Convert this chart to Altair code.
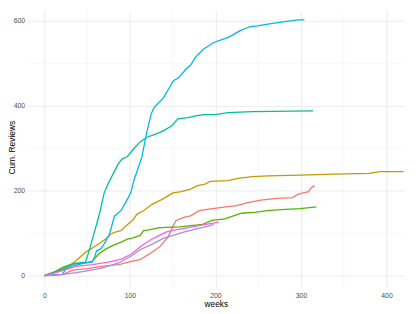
import altair as alt
import pandas as pd

series_names = ["A", "B", "C", "D", "E", "F", "G"]
series_colors = ["#F8766D", "#C49A00", "#53B400", "#00C094", "#00B6EB", "#A58AFF", "#FB61D7"]

weeks_A = [0, 11, 22, 33, 48, 67, 87, 102, 112, 124, 135, 145, 150, 154, 164, 171, 181, 192, 208, 225, 238, 253, 272, 290, 297, 305, 309, 312, 316]
reviews_A = [0, 2, 3, 13, 16, 22, 26, 34, 38, 53, 68, 92, 115, 130, 138, 141, 153, 157, 161, 165, 172, 178, 182, 184, 192, 196, 198, 207, 212]

weeks_B = [0, 11, 22, 37, 48, 60, 71, 77, 82, 89.5, 97, 103, 108.5, 116, 126, 137, 150.5, 160, 171, 179, 187, 194, 215, 226, 243, 262, 300, 338, 380, 392, 420]
reviews_B = [0, 8, 13, 35, 55, 70, 85, 97, 102, 106, 120, 130, 145, 153, 168, 179, 195, 198, 204, 212, 215, 222, 224, 229, 233, 235, 237, 239, 241, 245, 245]

weeks_C = [0, 9.5, 22, 32, 48, 56, 63, 71, 81, 90, 97, 102, 112, 116, 122, 135, 158, 185, 196, 211, 221, 230.5, 246, 261, 272, 299, 318]
reviews_C = [0, 6, 20, 27, 30, 34, 50, 62, 72, 79, 86, 88, 95, 106, 108, 113, 115, 121, 130, 134, 141, 147, 149, 153, 155, 158, 162]

weeks_D = [0, 6, 15, 36, 48, 53, 56, 61, 65, 70, 75, 80, 86, 91, 97, 105, 112, 120, 131, 139, 149, 156, 168, 177, 186, 201, 215, 243, 314]
reviews_D = [0, 5, 10, 29, 32, 62, 85, 120, 150, 195, 218, 238, 262, 275, 280, 300, 315, 326, 334, 341, 353, 369, 372, 376, 379, 380, 384, 386, 388]

weeks_E = [0, 10, 21, 25, 35, 48, 56, 59, 61, 66, 70, 76, 82, 89.5, 95, 101, 105, 114, 120, 125, 128, 139, 151, 157, 166, 171, 177, 186, 198, 215, 229, 240, 249, 263, 281, 297, 304]
reviews_E = [0, 1, 3, 15, 24, 30, 32, 45, 58, 63, 75, 97, 140, 153, 172, 195, 226, 279, 340, 381, 395, 418, 459, 466, 487, 496, 515, 533, 549, 561, 577, 586, 588, 593, 598, 602, 602]

weeks_F = [0, 22, 37, 48, 67, 87, 97, 102, 112, 128, 139, 150.5, 164, 179, 190.5, 198]
reviews_F = [0, 3, 7, 11, 18, 30, 41, 47, 61, 76, 88, 95, 103, 111, 116, 121]

weeks_G = [0, 10, 25.5, 37, 56, 75, 90, 102, 112, 124, 131, 143, 150.5, 173, 192, 204]
reviews_G = [0, 5, 15, 22, 26, 32, 39, 51, 68, 84, 91.5, 103, 107, 115, 122, 126]

x_major = [0, 100, 200, 300, 400]
x_minor = [50, 150, 250, 350]
y_major = [0, 200, 400, 600]
y_minor = [100, 300, 500]

all_weeks = [weeks_A, weeks_B, weeks_C, weeks_D, weeks_E, weeks_F, weeks_G]
all_reviews = [reviews_A, reviews_B, reviews_C, reviews_D, reviews_E, reviews_F, reviews_G]

rows = []
for name, ws, rs in zip(series_names, all_weeks, all_reviews):
    for i, (w, r) in enumerate(zip(ws, rs)):
        rows.append({"series": name, "weeks": w, "reviews": r, "idx": i})
df = pd.DataFrame(rows)

FONT = "Liberation Sans"
xscale = alt.Scale(domain=[-19.5, 420.5], nice=False, zero=False)
yscale = alt.Scale(domain=[-27.7, 623.1], nice=False, zero=False)

x_axis = alt.Axis(
    values=x_major, title="weeks", grid=True, gridColor="#EBEBEB", gridWidth=1,
    domain=False, ticks=False, labelColor="#4D4D4D", labelFontSize=7,
    labelPadding=4, labelFont=FONT, titleFont=FONT, titleFontSize=8.5,
    titleFontWeight="normal", titleColor="#000000", titleBaseline="middle",
    titleY=16,
)
y_axis = alt.Axis(
    values=y_major, title="Cum. Reviews", grid=True, gridColor="#EBEBEB", gridWidth=1,
    domain=False, ticks=False, labelColor="#4D4D4D", labelFontSize=7,
    labelPadding=3, labelFont=FONT, titleFont=FONT, titleFontSize=8.5,
    titleFontWeight="normal", titleColor="#000000", titleBaseline="middle",
    titleX=-16, titleY=139,
)

minor_x = alt.Chart(pd.DataFrame({"weeks": x_minor})).mark_rule(
    color="#F2F2F2", strokeWidth=0.6
).encode(x=alt.X("weeks:Q", scale=xscale, axis=x_axis))

minor_y = alt.Chart(pd.DataFrame({"reviews": y_minor})).mark_rule(
    color="#F2F2F2", strokeWidth=0.6
).encode(y=alt.Y("reviews:Q", scale=yscale, axis=y_axis))

lines = alt.Chart(df).mark_line(strokeWidth=1.3, clip=True).encode(
    x=alt.X("weeks:Q", scale=xscale, axis=x_axis),
    y=alt.Y("reviews:Q", scale=yscale, axis=y_axis),
    color=alt.Color("series:N", scale=alt.Scale(domain=series_names, range=series_colors), legend=None),
    order=alt.Order("idx:Q"),
)

chart = alt.layer(minor_x, minor_y, lines).properties(
    width=384,
    height=282,
    background="white",
    autosize=alt.AutoSizeParams(type="none"),
    padding={"left": 20, "top": 0, "right": 4, "bottom": 24},
).configure_view(stroke=None)

chart.save("out.html", embed_options={"renderer": "svg", "actions": False})
